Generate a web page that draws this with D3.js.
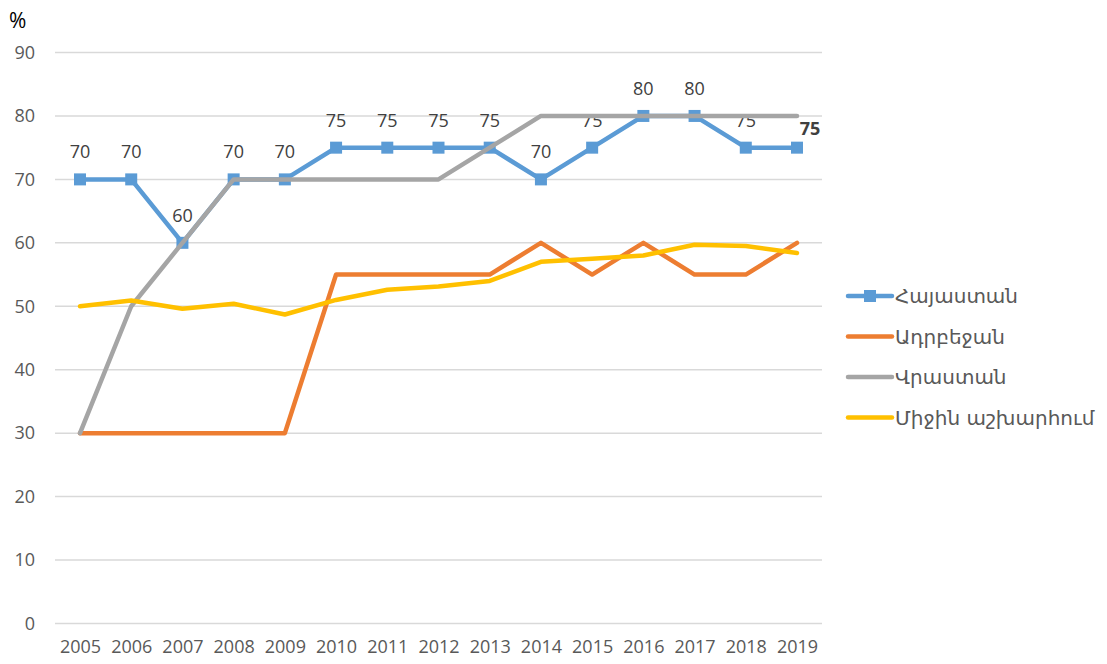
<!DOCTYPE html>
<html>
<head>
<meta charset="utf-8">
<script src="https://cdn.jsdelivr.net/npm/d3@7"></script>
<style>
    body { margin: 0; background: #fff; }
    svg { display: block; }
</style>
</head>
<body>
<svg width="1107" height="664"></svg>
<script>
// years on the x axis
const years = [2005, 2006, 2007, 2008, 2009, 2010, 2011, 2012, 2013, 2014, 2015, 2016, 2017, 2018, 2019];

// series values, %
const armenia = [70, 70, 60, 70, 70, 75, 75, 75, 75, 70, 75, 80, 80, 75, 75];
const azerbaijan = [30, 30, 30, 30, 30, 55, 55, 55, 55, 60, 55, 60, 55, 55, 60];
const georgia = [30, 50, 60, 70, 70, 70, 70, 70, 75, 80, 80, 80, 80, 80, 80];
const worldAvg = [50, 50.9, 49.6, 50.4, 48.7, 51.0, 52.6, 53.1, 54.0, 57.0, 57.5, 58.0, 59.7, 59.5, 58.4];

const seriesNames = ['Հայաստան', 'Ադրբեջան', 'Վրաստան', 'Միջին աշխարհում'];
const yTicks = [0, 10, 20, 30, 40, 50, 60, 70, 80, 90];

const series = [
    { name: seriesNames[0], values: armenia, color: '#5B9BD5', marker: true, labels: true },
    { name: seriesNames[1], values: azerbaijan, color: '#ED7D31' },
    { name: seriesNames[2], values: georgia, color: '#A5A5A5' },
    { name: seriesNames[3], values: worldAvg, color: '#FFC000' },
];

const svg = d3.select('svg');
const numFont = '"Open Sans", sans-serif';

const x = d3.scalePoint()
    .domain(years)
    .range([80, 797]);

const y = d3.scaleLinear()
    .domain([0, 90])
    .range([623.5, 52.5]);

// gridlines
svg.append('g').selectAll('line')
    .data(yTicks)
    .enter()
    .append('line')
    .attr('x1', 55)
    .attr('x2', 822)
    .attr('y1', d => y(d))
    .attr('y2', d => y(d))
    .attr('stroke', '#D9D9D9')
    .attr('stroke-width', 1.5);

// y axis labels
const yAxis = svg.append('g')
    .attr('transform', 'translate(48,0)')
    .call(d3.axisLeft(y).tickValues(yTicks).tickSize(0).tickPadding(0));
yAxis.select('.domain').remove();
yAxis.selectAll('text')
    .attr('font-family', numFont)
    .attr('font-size', 18)
    .attr('fill', '#595959')
    .attr('x', -13);

// x axis labels
const xAxis = svg.append('g')
    .attr('transform', 'translate(0,640)')
    .call(d3.axisBottom(x).tickSize(0).tickPadding(0).tickFormat(d3.format('d')));
xAxis.select('.domain').remove();
xAxis.selectAll('text')
    .attr('font-family', numFont)
    .attr('font-size', 18)
    .attr('fill', '#595959');

// unit
svg.append('text')
    .attr('x', 9)
    .attr('y', 28)
    .attr('font-family', numFont)
    .attr('font-size', 21)
    .attr('fill', '#000')
    .text('%');

const line = d3.line()
    .x((d, i) => x(years[i]))
    .y(d => y(d));

series.forEach((s) => {
    const g = svg.append('g');
    g.append('path')
        .datum(s.values)
        .attr('fill', 'none')
        .attr('stroke', s.color)
        .attr('stroke-width', 4.5)
        .attr('stroke-linejoin', 'round')
        .attr('stroke-linecap', 'round')
        .attr('d', line);
    if (s.marker) {
        g.selectAll('rect')
            .data(s.values)
            .enter()
            .append('rect')
            .attr('x', (d, i) => x(years[i]) - 6)
            .attr('y', d => y(d) - 6)
            .attr('width', 12)
            .attr('height', 12)
            .attr('fill', s.color);
    }
    if (s.labels) {
        const last = s.values.length - 1;
        svg.append('g').selectAll('text')
            .data(s.values)
            .enter()
            .append('text')
            .attr('x', (d, i) => x(years[i]) + (i === last ? 13 : 0))
            .attr('y', (d, i) => y(d) - (i === last ? 13 : 21))
            .attr('text-anchor', 'middle')
            .attr('font-family', numFont)
            .attr('font-size', 18)
            .attr('font-weight', (d, i) => (i === last ? 'bold' : 'normal'))
            .attr('fill', '#404040')
            .text(d => d);
    }
});

// legend
const legend = svg.append('g')
    .attr('transform', 'translate(846,296)');
const item = legend.selectAll('g')
    .data(series)
    .enter()
    .append('g')
    .attr('transform', (d, i) => `translate(0,${i * 40.5})`);
item.append('line')
    .attr('x1', 2)
    .attr('x2', 46)
    .attr('stroke', d => d.color)
    .attr('stroke-width', 4.5)
    .attr('stroke-linecap', 'round');
item.filter(d => d.marker)
    .append('rect')
    .attr('x', 18)
    .attr('y', -6)
    .attr('width', 12)
    .attr('height', 12)
    .attr('fill', d => d.color);
item.append('text')
    .attr('x', 49)
    .attr('dy', '0.35em')
    .attr('font-family', '"DejaVu Sans", sans-serif')
    .attr('font-size', 20)
    .attr('fill', '#595959')
    .text(d => d.name);
</script>
</body>
</html>
